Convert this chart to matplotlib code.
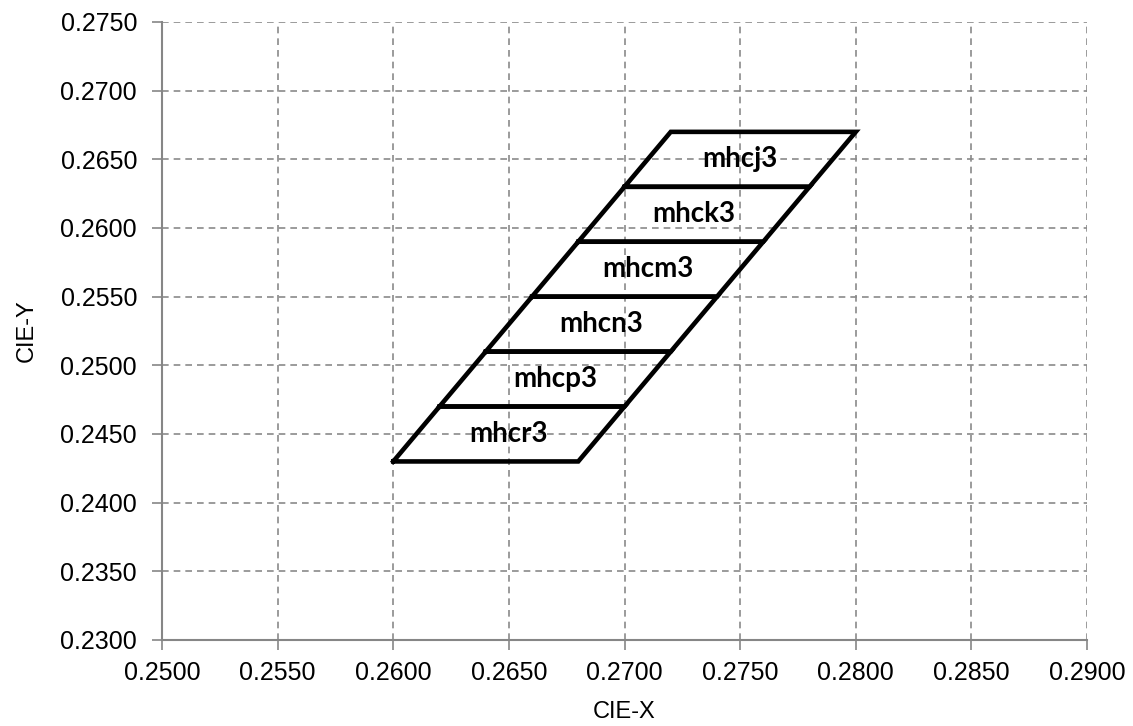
import matplotlib
matplotlib.use("Agg")
import matplotlib.pyplot as plt

# bin boundaries (CIE y) and the x of left / right edge at each boundary
band_y = [0.243, 0.247, 0.251, 0.255, 0.259, 0.263, 0.267]
left_x = [0.260, 0.262, 0.264, 0.266, 0.268, 0.270, 0.272]
right_x = [0.268, 0.270, 0.272, 0.274, 0.276, 0.278, 0.280]
bin_names = ["mhcr3", "mhcp3", "mhcn3", "mhcm3", "mhck3", "mhcj3"]

x_ticks = [0.250, 0.255, 0.260, 0.265, 0.270, 0.275, 0.280, 0.285, 0.290]
y_ticks = [0.230, 0.235, 0.240, 0.245, 0.250, 0.255, 0.260, 0.265, 0.270, 0.275]

plt.rcParams["font.family"] = ["Liberation Sans", "DejaVu Sans"]

fig = plt.figure(figsize=(11.33, 7.26), dpi=100)
ax = fig.add_axes([0.143, 0.1185, 0.8164, 0.8512])

for i, name in enumerate(bin_names):
    xs = [left_x[i], right_x[i], right_x[i + 1], left_x[i + 1], left_x[i]]
    ys = [band_y[i], band_y[i], band_y[i + 1], band_y[i + 1], band_y[i]]
    ax.plot(xs, ys, color="black", lw=3.3, solid_joinstyle="miter", zorder=3)
    cx = (left_x[i] + right_x[i] + left_x[i + 1] + right_x[i + 1]) / 4
    cy = (band_y[i] + band_y[i + 1]) / 2
    ax.text(cx, cy, name, ha="center", va="center", fontsize=20,
            fontweight="bold", family=["Lato", "DejaVu Sans"], zorder=4)

ax.set_xlim(0.250, 0.290)
ax.set_ylim(0.230, 0.275)
ax.set_xticks(x_ticks)
ax.set_yticks(y_ticks)
ax.set_xticklabels(["%.4f" % v for v in x_ticks])
ax.set_yticklabels(["%.4f" % v for v in y_ticks])
ax.tick_params(labelsize=18, length=7, width=1.2, color="#868686")
ax.tick_params(axis="y", pad=11)
ax.tick_params(axis="x", pad=8)

ax.grid(True, linestyle=(0, (4, 3)), color="#8a8a8a", lw=1.2)
ax.set_axisbelow(True)
for s in ["top", "right"]:
    ax.spines[s].set_visible(False)
for s in ["left", "bottom"]:
    ax.spines[s].set_color("#868686")
    ax.spines[s].set_linewidth(1.5)

ax.set_xlabel("CIE-X", fontsize=17, labelpad=12)
ax.set_ylabel("CIE-Y", fontsize=17, labelpad=16)

fig.savefig("out.png", dpi=100)
